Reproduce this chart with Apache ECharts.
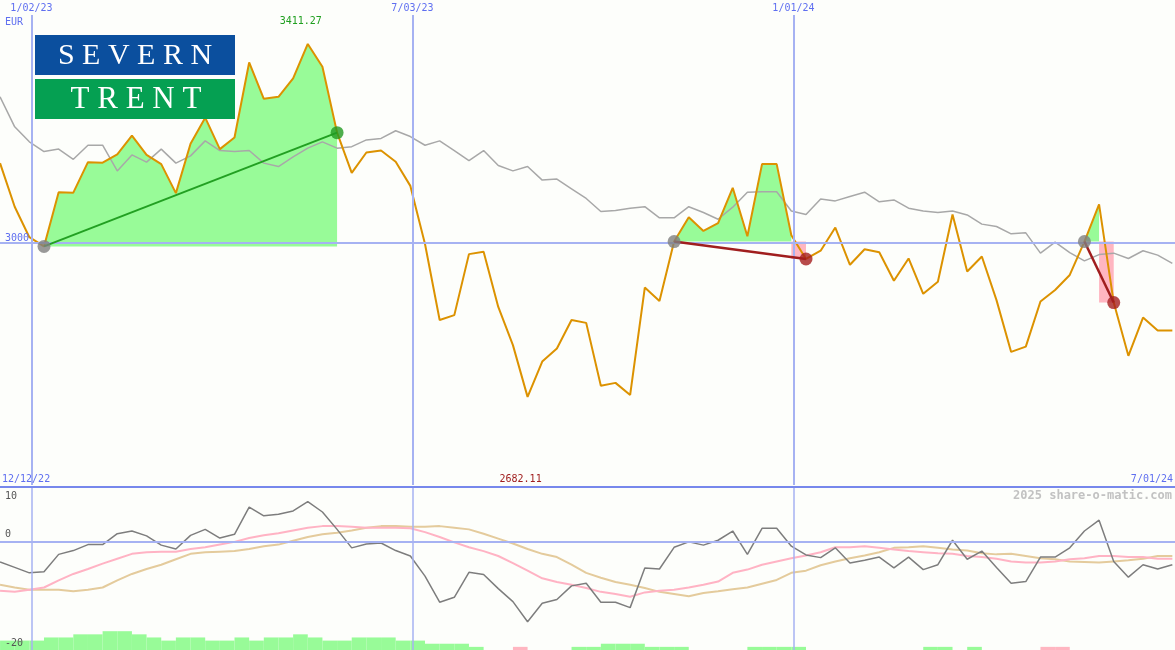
<!DOCTYPE html>
<html><head><meta charset="utf-8">
<script src="https://cdn.jsdelivr.net/npm/echarts@6/dist/echarts.min.js"></script>
<style>html,body{margin:0;padding:0;background:#fdfefb}#c{width:1175px;height:650px}</style>
</head><body><div id="c"></div>
<script>
// ---- data (weekly, first week below) ----
const firstWeek = '2022-12-18';
const currency = 'EUR';
const price = [
  3165, 3075, 3012,
  2993, 3105, 3104, 3167, 3166, 3183, 3222, 3182, 3163, 3103,
  3205, 3259, 3194, 3218, 3373, 3298, 3302, 3340, 3411.27, 3364,
  3228, 3145, 3187, 3191, 3168, 3118, 2998, 2841, 2851, 2977,
  2982, 2868, 2789, 2682.11, 2755, 2782, 2841, 2835, 2705, 2711,
  2686, 2908, 2880, 3003, 3053, 3025, 3041, 3114, 3014, 3163,
  3163, 3016, 2967, 2984, 3032, 2955, 2987, 2981, 2922, 2968,
  2895, 2920, 3059, 2941, 2972, 2882, 2775, 2786, 2879, 2903,
  2934, 3003, 3080, 2877, 2767, 2846, 2819, 2819
];
const benchmark = [
  3302, 3240, 3209,
  3189, 3194, 3173, 3202, 3202, 3149, 3182, 3167, 3194, 3165,
  3180, 3211, 3191, 3189, 3191, 3165, 3158, 3178, 3196, 3209,
  3196, 3199, 3213, 3216, 3232, 3220, 3202, 3211, 3191, 3170,
  3191, 3160, 3149, 3158, 3130, 3132, 3112, 3092, 3065, 3067,
  3072, 3075, 3052, 3052, 3075, 3063, 3049, 3074, 3105, 3106,
  3106, 3066, 3059, 3091, 3087, 3096, 3105, 3085, 3089, 3072,
  3066, 3063, 3066, 3058, 3039, 3034, 3019, 3021, 2979, 3002,
  2980, 2963, 2976, 2979, 2968, 2984, 2975, 2958
];
const oscillator = [
  -3.8, -4.8, -5.8,
  -5.6, -2.4, -1.7, -0.6, -0.6, 1.4, 1.9, 1.0, -0.7, -1.4,
  1.1, 2.2, 0.6, 1.3, 6.3, 4.7, 5.0, 5.6, 7.3, 5.4,
  2.2, -1.2, -0.5, -0.3, -1.7, -2.7, -6.4, -11.2, -10.3, -5.7,
  -6.1, -8.7, -11.1, -14.8, -11.4, -10.7, -8.2, -7.7, -11.2, -11.2,
  -12.2, -4.9, -5.1, -1.1, -0.1, -0.7, 0.2, 1.9, -2.4, 2.4,
  2.4, -0.9, -2.5, -3.0, -1.2, -4.0, -3.5, -2.9, -4.9, -2.9,
  -5.2, -4.3, 0.2, -3.3, -1.8, -4.8, -7.7, -7.4, -2.9, -2.9,
  -1.2, 1.9, 3.9, -3.7, -6.6, -4.3, -5.1, -4.3
];
const maFast = [
  -9.1, -9.3, -8.9,
  -8.5, -7.2, -6.0, -5.1, -4.1, -3.2, -2.3, -2.0, -1.9, -1.9,
  -1.4, -1.1, -0.6, -0.1, 0.6, 1.1, 1.5, 2.0, 2.5, 2.8,
  2.8, 2.7, 2.5, 2.5, 2.5, 2.4, 1.7, 0.8, -0.2, -1.1,
  -1.8, -2.7, -4.0, -5.4, -6.8, -7.5, -8.0, -8.6, -9.3, -9.7,
  -10.2, -9.4, -9.1, -8.9, -8.5, -8.0, -7.4, -5.8, -5.2, -4.3,
  -3.7, -3.1, -2.6, -2.0, -1.1, -1.1, -0.9, -1.2, -1.5, -1.8,
  -2.0, -2.2, -2.3, -2.7, -2.9, -3.2, -3.7, -3.9, -3.9, -3.7,
  -3.3, -3.1, -2.7, -2.7, -2.9, -2.9, -3.2, -3.2
];
const maSlow = [
  -8.0, -8.5, -8.9,
  -8.9, -8.9, -9.2, -8.9, -8.5, -7.2, -6.0, -5.1, -4.3, -3.3,
  -2.3, -2.0, -1.9, -1.8, -1.4, -0.9, -0.6, 0.1, 0.8, 1.3,
  1.6, 2.0, 2.5, 2.8, 2.8, 2.7, 2.7, 2.8, 2.5, 2.2,
  1.4, 0.5, -0.4, -1.4, -2.3, -2.9, -4.3, -5.8, -6.7, -7.5,
  -8.0, -8.6, -9.3, -9.7, -10.1, -9.5, -9.2, -8.8, -8.5, -7.8,
  -7.1, -5.8, -5.4, -4.4, -3.7, -3.1, -2.6, -2.0, -1.2, -1.1,
  -0.9, -1.2, -1.5, -1.7, -2.2, -2.4, -2.3, -2.7, -3.1, -3.3,
  -3.7, -3.8, -3.9, -3.7, -3.5, -3.2, -2.7, -2.7
];
// one level per week interval (positive = green, negative = pink)
const barLevels = [
  3, 3, 3, 4, 4, 5, 5, 6, 6, 5, 4, 3, 4, 4, 3, 3, 4, 3, 4, 4,
  5, 4, 3, 3, 4, 4, 4, 3, 3, 2, 2, 2, 1, 0, 0, -1, 0, 0, 0, 1,
  1, 2, 2, 2, 1, 1, 1, 0, 0, 0, 0, 1, 1, 1, 1, 0, 0, 0, 0, 0,
  0, 0, 0, 1, 1, 0, 1, 0, 0, 0, 0, -1, -1, 0, 0, 0, 0, 0, 0, 0
];
const tradeOpen = ['2023-01-08', '2023-11-05', '2024-05-19'];
const tradeClose = ['2023-05-28', '2024-01-07', '2024-06-02'];
const dateTicks = ['2023-01-02', '2023-07-03', '2024-01-01'];
const dateTickLabels = ['1/02/23', '7/03/23', '1/01/24'];
const rangeLabels = ['12/12/22', '7/01/24'];
const priceTicks = [3000];
const oscTicksLow = [0, -20];
const oscTicksTop = [10];
const watermark = '2025 share-o-matic.com';

// ---- helpers ----
const DAY = 86400000;
const ts = s => Date.parse(s + 'T00:00:00Z');
const t0 = ts(firstWeek);
const dates = price.map((_, i) => t0 + i * 7 * DAY);
const idxOf = s => dates.indexOf(ts(s));
const trades = tradeOpen.map((o, k) => ({ o: idxOf(o), c: idxOf(tradeClose[k]) }));
const pairs = arr => arr.map((v, i) => [dates[i], v]);
let iMax = 0, iMin = 0;
price.forEach((v, i) => { if (v > price[iMax]) iMax = i; if (v < price[iMin]) iMin = i; });

const MONO = '"DejaVu Sans Mono", monospace';
const BLUE_TXT = '#5f6ff0';
const GUIDE = '#a6b2f2';
const xMin = Date.UTC(2022, 11, 17, 23, 30);
const xMax = Date.UTC(2024, 6, 1, 6, 30);
const yTopGuide = 3471;
const plain = v => String(v);

const chart = echarts.init(document.getElementById('c'), null, { renderer: 'canvas' });

const tradeLines = trades.map(tr => ({
  type: 'line', xAxisIndex: 0, yAxisIndex: 0, z: 5, silent: true,
  symbol: 'none',
  lineStyle: { color: price[tr.c] >= price[tr.o] ? '#22a022' : '#a01e1e', width: price[tr.c] >= price[tr.o] ? 2 : 2.5 },
  data: [[dates[tr.o], price[tr.o]], [dates[tr.c], price[tr.c]]]
}));

chart.setOption({
  animation: false,
  backgroundColor: '#fdfefb',
  grid: [
    { left: 0, right: 0, top: 1, height: 484 },
    { left: 0, right: 0, top: 487, height: 163 }
  ],
  xAxis: [
    { type: 'time', gridIndex: 0, min: xMin, max: xMax, show: false },
    { type: 'time', gridIndex: 1, min: xMin, max: xMax, show: false }
  ],
  yAxis: [
    { type: 'value', gridIndex: 0, position: 'left', min: 2500, max: 3500, z: 10,
      name: currency, nameLocation: 'end', nameGap: -21,
      nameTextStyle: { color: BLUE_TXT, fontFamily: MONO, fontSize: 10, align: 'left', verticalAlign: 'middle', padding: [0, 0, 0, 5] },
      axisLine: { show: false }, axisTick: { show: false }, splitLine: { show: false },
      axisLabel: { inside: true, customValues: priceTicks, formatter: plain, margin: 5, verticalAlign: 'bottom', color: BLUE_TXT, fontFamily: MONO, fontSize: 10 } },
    { type: 'value', gridIndex: 1, position: 'left', min: -20, max: 10, z: 10,
      axisLine: { show: false }, axisTick: { show: false }, splitLine: { show: false },
      axisLabel: { inside: true, customValues: oscTicksLow, formatter: plain, margin: 5, verticalAlign: 'bottom', padding: [0, 0, 2, 0], color: '#555', fontFamily: MONO, fontSize: 10 } },
    { type: 'value', gridIndex: 1, position: 'left', offset: 0, min: -20, max: 10, z: 10,
      axisLine: { show: false }, axisTick: { show: false }, splitLine: { show: false },
      axisLabel: { inside: true, customValues: oscTicksTop, formatter: plain, margin: 5, verticalAlign: 'top', padding: [4, 0, 0, 0], color: '#555', fontFamily: MONO, fontSize: 10 } },
    { type: 'value', gridIndex: 1, position: 'left', min: 0, max: 52, show: false }
  ],
  series: [
    // guides main panel
    { type: 'line', xAxisIndex: 0, yAxisIndex: 0, z: 1, data: [], silent: true,
      markLine: { silent: true, animation: false, symbol: ['none', 'none'],
        lineStyle: { color: GUIDE, width: 2, type: 'solid' },
        label: { show: true, position: 'end', distance: 2, color: BLUE_TXT, fontFamily: MONO, fontSize: 10 },
        data: dateTicks.map((d, k) => [
          { coord: [ts(d), 2500], label: { formatter: dateTickLabels[k] } },
          { coord: [ts(d), yTopGuide] }
        ]).concat([{ yAxis: priceTicks[0], label: { show: false } }])
      } },
    // guides lower panel
    { type: 'line', xAxisIndex: 1, yAxisIndex: 1, z: 1, data: [], silent: true,
      markLine: { silent: true, animation: false, symbol: ['none', 'none'],
        label: { show: false },
        lineStyle: { color: GUIDE, width: 1.5, type: 'solid' },
        data: dateTicks.map(d => ({ xAxis: ts(d) })).concat([{ yAxis: 0, lineStyle: { width: 2, color: GUIDE } }])
      } },
    // trade fills
    { type: 'custom', xAxisIndex: 0, yAxisIndex: 0, z: 2, silent: true,
      encode: { x: [0, 2], y: [1, 3] },
      data: trades.map(tr => [dates[tr.o], price[tr.o], dates[tr.c], price[tr.c], tr.o, tr.c]),
      renderItem(params, api) {
        const o = api.value(4), c = api.value(5);
        const base = price[o];
        const yb = api.coord([dates[o], base])[1];
        const lastUp = price[c] >= base ? c : c - 1;
        const pts = [[api.coord([dates[o], base])[0], yb]];
        for (let i = o; i <= lastUp; i++) pts.push(api.coord([dates[i], price[i]]));
        pts.push([api.coord([dates[lastUp], base])[0], yb]);
        const children = [{ type: 'polygon', shape: { points: pts }, style: { fill: '#98fb98' } }];
        if (lastUp < c) {
          const x1 = api.coord([dates[lastUp], base])[0];
          const x2 = api.coord([dates[c], base])[0];
          const y2 = api.coord([dates[c], price[c]])[1];
          children.push({ type: 'rect', shape: { x: x1, y: yb, width: x2 - x1, height: y2 - yb }, style: { fill: '#ffb6c1' } });
        }
        return { type: 'group', children };
      } },
    { type: 'line', name: 'benchmark', xAxisIndex: 0, yAxisIndex: 0, z: 3, silent: true, symbol: 'none',
      lineStyle: { color: '#a8a8a8', width: 1.5 }, data: pairs(benchmark) },
    { type: 'line', name: 'price', xAxisIndex: 0, yAxisIndex: 0, z: 4, silent: true, symbol: 'none',
      lineStyle: { color: '#dc9200', width: 2 }, data: pairs(price) },
    ...tradeLines,
    { type: 'scatter', xAxisIndex: 0, yAxisIndex: 0, z: 6, silent: true, symbolSize: 13,
      itemStyle: { color: '#808080' },
      data: trades.map(tr => [dates[tr.o], price[tr.o]]) },
    { type: 'scatter', xAxisIndex: 0, yAxisIndex: 0, z: 6, silent: true, symbolSize: 13,
      data: trades.map(tr => ({ value: [dates[tr.c], price[tr.c]], itemStyle: { color: price[tr.c] >= price[tr.o] ? '#229a22' : '#a51e1e' } })) },
    // extremes labels
    { type: 'custom', xAxisIndex: 0, yAxisIndex: 0, z: 10, silent: true,
      encode: { x: 0, y: 1 },
      data: [[dates[iMax], price[iMax], 1], [dates[iMin], price[iMin], 0]],
      renderItem(params, api) {
        const p = api.coord([api.value(0), api.value(1)]);
        const top = api.value(2) === 1;
        const cs = params.coordSys;
        return { type: 'text', x: p[0] - 7, y: top ? cs.y + 20 : cs.y + cs.height - 6,
          style: { text: api.value(1).toFixed(2), fill: top ? '#1f9f1f' : '#a01e1e',
            font: '10px ' + MONO, align: 'center', verticalAlign: 'middle' } };
      } },
    // lower bars
    { type: 'custom', xAxisIndex: 1, yAxisIndex: 3, z: 2, silent: true,
      encode: { x: [0, 2], y: 1 },
      data: barLevels.map((lv, i) => [dates[i], lv, dates[i + 1]]),
      renderItem(params, api) {
        const lv = api.value(1);
        if (!lv) return null;
        const a = api.coord([api.value(0), 0]);
        const b = api.coord([api.value(2), Math.abs(lv)]);
        return { type: 'rect', shape: { x: a[0], y: b[1], width: b[0] - a[0], height: a[1] - b[1] },
          style: { fill: lv > 0 ? '#98fb98' : '#ffb6c1' } };
      } },
    { type: 'line', name: 'slow', xAxisIndex: 1, yAxisIndex: 1, z: 3, silent: true, symbol: 'none',
      lineStyle: { color: '#e4cb9c', width: 2 }, data: pairs(maSlow) },
    { type: 'line', name: 'fast', xAxisIndex: 1, yAxisIndex: 1, z: 3, silent: true, symbol: 'none',
      lineStyle: { color: '#ffb3c4', width: 2 }, data: pairs(maFast) },
    { type: 'line', name: 'osc', xAxisIndex: 1, yAxisIndex: 1, z: 4, silent: true, symbol: 'none',
      lineStyle: { color: '#7d7d7d', width: 1.5 }, data: pairs(oscillator) }
  ],
  graphic: [
    { type: 'rect', z: 100, shape: { x: 0, y: 486, width: 1175, height: 2 }, style: { fill: '#7788ec' } },
    { type: 'rect', z: 100, shape: { x: 35, y: 35, width: 200, height: 40 }, style: { fill: '#0b4f9e' } },
    { type: 'rect', z: 100, shape: { x: 35, y: 79, width: 200, height: 40 }, style: { fill: '#05a052' } },
    { type: 'text', z: 101, x: 135, y: 56, style: { text: 'S E V E R N', fill: '#ffffff', font: '30px "Liberation Serif", serif', align: 'center', verticalAlign: 'middle' } },
    { type: 'text', z: 101, x: 136, y: 100, style: { text: 'T R E N T', fill: '#ffffff', font: '31px "Liberation Serif", serif', align: 'center', verticalAlign: 'middle' } },
    { type: 'text', z: 101, x: 2, y: 479, style: { text: rangeLabels[0], fill: BLUE_TXT, font: '10px ' + MONO, align: 'left', verticalAlign: 'middle' } },
    { type: 'text', z: 101, x: 1173, y: 479, style: { text: rangeLabels[1], fill: BLUE_TXT, font: '10px ' + MONO, align: 'right', verticalAlign: 'middle' } },
    { type: 'text', z: 101, x: 1172, y: 496, style: { text: watermark, fill: '#c2c2c2', font: 'bold 12px ' + MONO, align: 'right', verticalAlign: 'middle' } }
  ]
});
</script></body></html>
